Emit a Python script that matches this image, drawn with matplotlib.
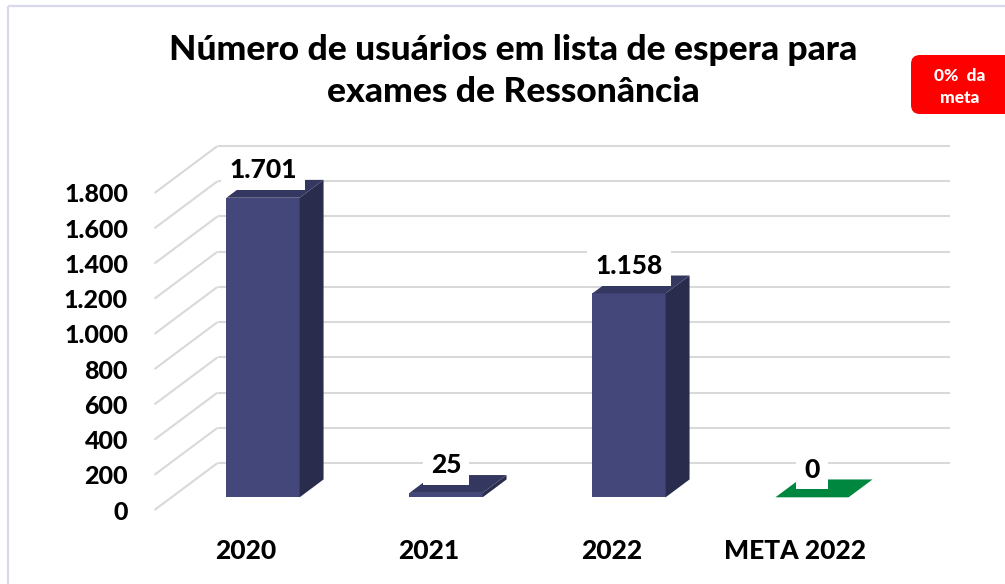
import matplotlib
matplotlib.use("Agg")
import matplotlib.pyplot as plt
from matplotlib.patches import Polygon, Rectangle, FancyBboxPatch
from matplotlib import font_manager
import numpy as np

# ---- data ----
categories = ["2020", "2021", "2022", "META 2022"]
waiting = [1701, 25, 1158, 0]
value_labels = ["1.701", "25", "1.158", "0"]
y_ticks = [0, 200, 400, 600, 800, 1000, 1200, 1400, 1600, 1800]
y_tick_labels = ["0", "200", "400", "600", "800", "1.000", "1.200", "1.400", "1.600", "1.800"]
title = "Número de usuários em lista de espera para\nexames de Ressonância"
badge_text = "0%  da\nmeta"

# ---- style ----
front_col = ["#43477a", "#43477a", "#43477a", "#00843d"]
top_col = ["#34375f", "#34375f", "#34375f", "#00873f"]
side_col = ["#2a2c4e", "#2a2c4e", "#2a2c4e", "#006a30"]
grid_col = "#d9d9d9"
W, H, DPI = 1005, 584, 100
DEPTH_DX, DEPTH_DY = 63, 47          # full floor depth, pixels
BAR_FRONT, BAR_BACK = 0.27, 0.65     # bar depth range (fraction of floor)
BAR_W = 0.4

lato_weights = {f.weight for f in font_manager.fontManager.ttflist if f.name == "Lato"}
HEAVY = 900 if 900 in lato_weights else (800 if 800 in lato_weights else "bold")
FONT = "Lato"

fig = plt.figure(figsize=(W / DPI, H / DPI), dpi=DPI)

# decoration layer in pixel coordinates
deco = fig.add_axes([0, 0, 1, 1], zorder=0)
deco.set_xlim(0, W)
deco.set_ylim(H, 0)
deco.axis("off")
deco.add_patch(Rectangle((8, 6), W + 10, H + 10, fill=False,
                         edgecolor="#d8d8ef", lw=1.6))
deco.add_patch(FancyBboxPatch((911, 55), 110, 59,
                              boxstyle="round,pad=0,rounding_size=9",
                              facecolor="#ff0000", edgecolor="none"))
deco.text(960, 87, badge_text, ha="center", va="center", color="white",
          fontsize=12.5, fontweight=HEAVY, family=FONT, linespacing=1.45)

# main chart axes (front edge of the floor)
left, right, bottom, top = 154.5, 886.5, 510, 193
ax = fig.add_axes([left / W, 1 - bottom / H, (right - left) / W, (bottom - top) / H],
                  zorder=1)
ax.patch.set_visible(False)
ax.set_xlim(-0.5, 3.5)
ax.set_ylim(0, 1800)
for s in ax.spines.values():
    s.set_visible(False)

ppx = ax.bbox.width / 4.0
ppy = ax.bbox.height / 1800.0


def depth_off(d):
    return d * DEPTH_DX / ppx, d * DEPTH_DY / ppy


# back wall grid lines with their diagonals on the left wall
wx, wy = depth_off(1.0)
for v in y_ticks:
    ax.plot([-0.5, -0.5 + wx], [v, v + wy], color=grid_col, lw=1.5,
            clip_on=False, zorder=1, solid_capstyle="butt")
    ax.plot([-0.5 + wx, 3.5 + wx], [v + wy, v + wy], color=grid_col, lw=1.5,
            clip_on=False, zorder=1, solid_capstyle="butt")

# bars
x = np.arange(len(categories))
fx, fy = depth_off(BAR_FRONT)
bx, by = depth_off(BAR_BACK)
ax.bar(x + fx, waiting, width=BAR_W, bottom=fy, color=front_col,
       clip_on=False, zorder=3, edgecolor="none")
for i, v in enumerate(waiting):
    x0 = x[i] - BAR_W / 2 + fx
    x1 = x[i] + BAR_W / 2 + fx
    dxb, dyb = bx - fx, by - fy
    top_face = [(x0, v + fy), (x1, v + fy), (x1 + dxb, v + fy + dyb), (x0 + dxb, v + fy + dyb)]
    side_face = [(x1, fy), (x1 + dxb, fy + dyb), (x1 + dxb, v + fy + dyb), (x1, v + fy)]
    ax.add_patch(Polygon(side_face, closed=True, facecolor=side_col[i],
                         edgecolor="none", clip_on=False, zorder=3))
    ax.add_patch(Polygon(top_face, closed=True, facecolor=top_col[i],
                         edgecolor="none", clip_on=False, zorder=4))
    ax.annotate(value_labels[i], (x[i] + fx, v + fy), xytext=(0, 20),
                textcoords="offset points", ha="center", va="center",
                fontsize=19, fontweight=HEAVY, family=FONT, zorder=6,
                bbox=dict(boxstyle="square,pad=0.3", facecolor="white",
                          edgecolor="none"))

# axes tick labels
ax.set_yticks(y_ticks)
ax.set_yticklabels(y_tick_labels, fontsize=18, fontweight=HEAVY, family=FONT)
ax.set_xticks(x)
ax.set_xticklabels(categories, fontsize=19, fontweight=HEAVY, family=FONT)
ax.tick_params(axis="y", length=0, pad=19)
ax.tick_params(axis="x", length=0, pad=21)

# title fitted to its line width
t = fig.text(513 / W, 1 - 71 / H, title, ha="center", va="center",
             fontsize=22, fontweight=HEAVY, family=FONT, linespacing=1.35)
fig.canvas.draw()
first_line = fig.text(0, 0, title.split("\n")[0], fontsize=22, fontweight=HEAVY,
                      family=FONT)
wpx = first_line.get_window_extent(fig.canvas.get_renderer()).width
first_line.remove()
t.set_fontsize(22 * 687 / wpx)

fig.savefig("out.png", dpi=DPI)
